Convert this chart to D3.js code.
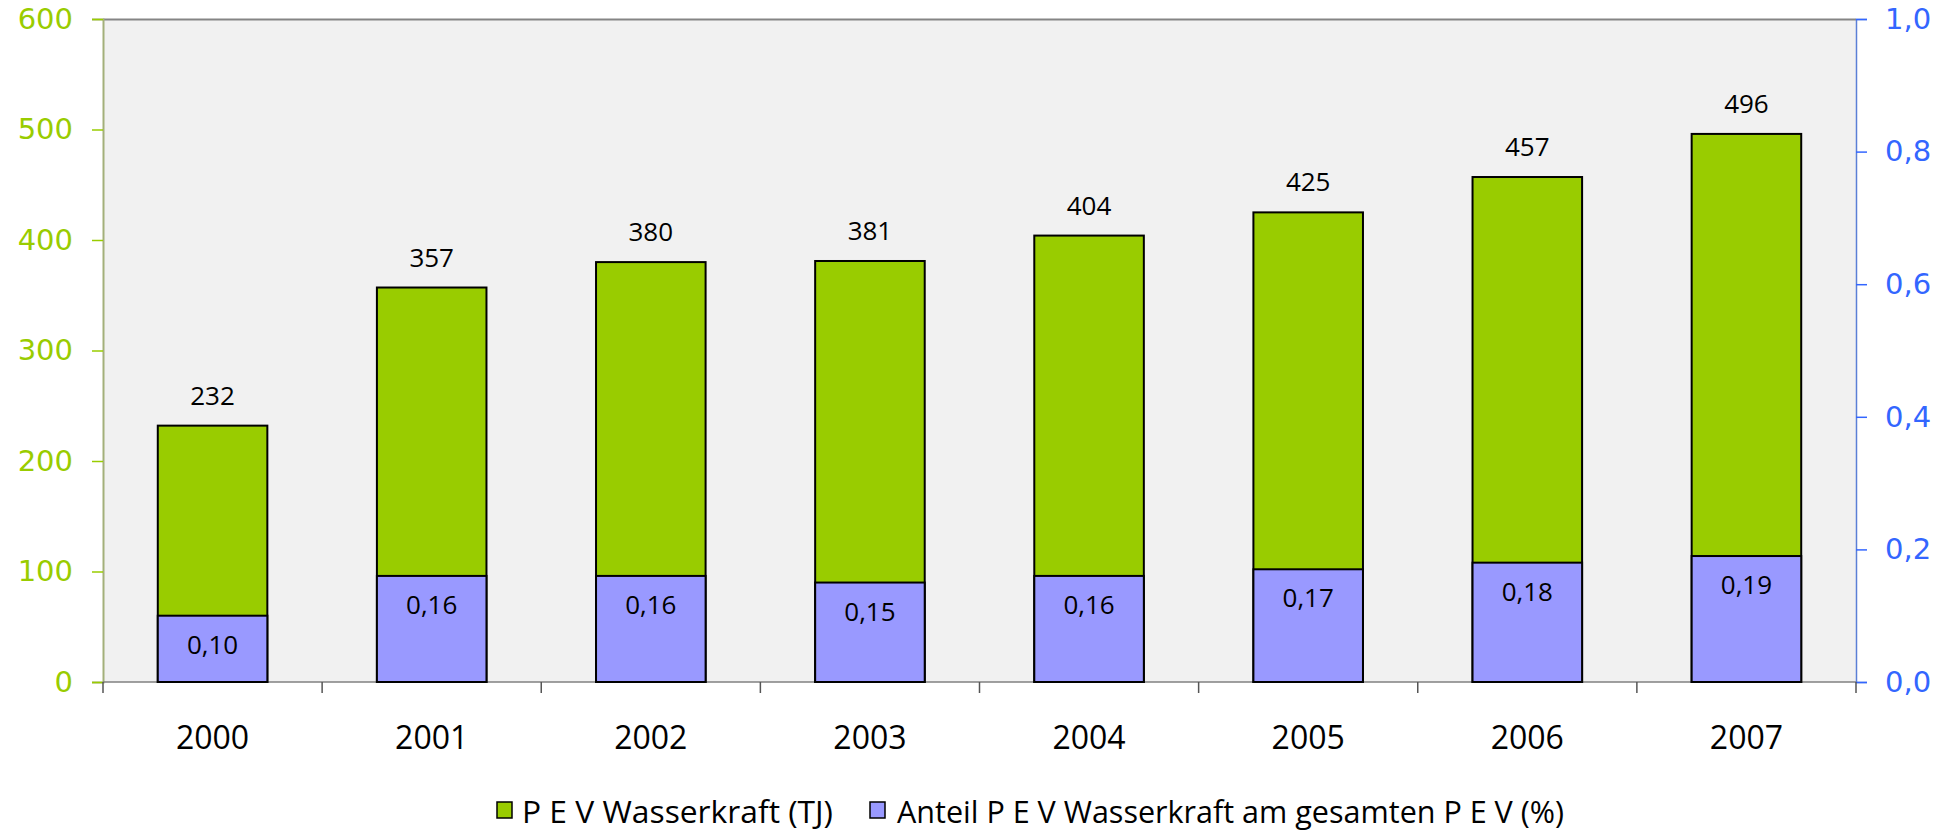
<!DOCTYPE html>
<html>
<head>
<meta charset="utf-8">
<script src="https://cdn.jsdelivr.net/npm/d3@7"></script>
<style>
  html, body { margin: 0; padding: 0; background: #ffffff; }
  svg { display: block; }
</style>
</head>
<body>
<svg id="chart" width="1950" height="831"></svg>
<script>
// Primärenergieverbrauch aus Wasserkraft, 2000–2007
const years = ["2000", "2001", "2002", "2003", "2004", "2005", "2006", "2007"];
const pevTJ = [232, 357, 380, 381, 404, 425, 457, 496];
const sharePct = [0.10, 0.16, 0.16, 0.15, 0.16, 0.17, 0.18, 0.19];
const leftTicks = [0, 100, 200, 300, 400, 500, 600];
const rightTicks = [0, 0.2, 0.4, 0.6, 0.8, 1.0];
const legendLabels = ["P E V Wasserkraft (TJ)", "Anteil P E V Wasserkraft am gesamten P E V (%)"];

const svg = d3.select("#chart");
const plot = { left: 103, right: 1856, top: 19, bottom: 682 };

const x = d3.scaleBand().domain(years).range([plot.left, plot.right]).paddingInner(0.5).paddingOuter(0.25);
const yL = d3.scaleLinear().domain([0, 600]).range([plot.bottom, plot.top]);
const yR = d3.scaleLinear().domain([0, 1]).range([plot.bottom, plot.top]);

const green = "#99cc00";
const purple = "#9999ff";
const fmt = d3.format(".2f");
const de = v => fmt(v).replace(".", ",");

// plot background
svg.append("rect")
  .attr("x", plot.left).attr("y", plot.top)
  .attr("width", plot.right - plot.left).attr("height", plot.bottom - plot.top)
  .attr("fill", "#f1f1f1");
svg.append("line")
  .attr("x1", plot.left).attr("x2", plot.right)
  .attr("y1", plot.top + 0.5).attr("y2", plot.top + 0.5)
  .attr("stroke", "#858585").attr("stroke-width", 2);

// left axis
const axL = svg.append("g").attr("transform", `translate(${plot.left},0)`)
  .call(d3.axisLeft(yL).tickValues(leftTicks).tickSize(11).tickPadding(19).tickFormat(d3.format("d")));
axL.select(".domain").attr("stroke", "#a3b07a").attr("stroke-width", 2);
axL.selectAll(".tick line").attr("stroke", green).attr("stroke-width", 1.5);
axL.selectAll(".tick text").attr("fill", green)
  .style("font-family", "'DejaVu Sans', sans-serif").style("font-size", "29px");

// right axis
const axR = svg.append("g").attr("transform", `translate(${plot.right},0)`)
  .call(d3.axisRight(yR).tickValues(rightTicks).tickSize(11).tickPadding(18).tickFormat(v => d3.format(".1f")(v).replace(".", ",")));
axR.select(".domain").attr("stroke", "#5b7fd6").attr("stroke-width", 1.5);
axR.selectAll(".tick line").attr("stroke", "#3366ff").attr("stroke-width", 1.5);
axR.selectAll(".tick text").attr("fill", "#3366ff")
  .style("font-family", "'DejaVu Sans', sans-serif").style("font-size", "29px");

// bottom axis with ticks between categories
const boundaries = d3.range(years.length + 1).map(i => plot.left + i * (plot.right - plot.left) / years.length);
svg.append("line")
  .attr("x1", plot.left).attr("x2", plot.right)
  .attr("y1", plot.bottom).attr("y2", plot.bottom)
  .attr("stroke", "#808080").attr("stroke-width", 1.5);
svg.selectAll("line.xtick").data(boundaries).join("line")
  .attr("class", "xtick")
  .attr("x1", d => d).attr("x2", d => d)
  .attr("y1", plot.bottom).attr("y2", plot.bottom + 11)
  .attr("stroke", "#555").attr("stroke-width", 1.5);
svg.selectAll("text.xlabel").data(years).join("text")
  .attr("class", "xlabel")
  .attr("x", d => x(d) + x.bandwidth() / 2)
  .attr("y", plot.bottom + 67)
  .attr("text-anchor", "middle")
  .style("font-family", "'Open Sans', sans-serif").style("font-size", "32px")
  .attr("fill", "#000")
  .text(d => d);

// green bars (left axis)
svg.selectAll("rect.pev").data(years).join("rect")
  .attr("class", "pev")
  .attr("x", d => x(d)).attr("width", x.bandwidth())
  .attr("y", (d, i) => yL(pevTJ[i]))
  .attr("height", (d, i) => yL(0) - yL(pevTJ[i]))
  .attr("fill", green).attr("stroke", "#000").attr("stroke-width", 2);

// purple bars (right axis)
svg.selectAll("rect.share").data(years).join("rect")
  .attr("class", "share")
  .attr("x", d => x(d)).attr("width", x.bandwidth())
  .attr("y", (d, i) => yR(sharePct[i]))
  .attr("height", (d, i) => yR(0) - yR(sharePct[i]))
  .attr("fill", purple).attr("stroke", "#000").attr("stroke-width", 2);

// value labels
svg.selectAll("text.pevlabel").data(years).join("text")
  .attr("class", "pevlabel")
  .attr("x", d => x(d) + x.bandwidth() / 2)
  .attr("y", (d, i) => yL(pevTJ[i]) - 21)
  .attr("text-anchor", "middle")
  .style("font-family", "'Open Sans', sans-serif").style("font-size", "26px")
  .attr("fill", "#000")
  .text((d, i) => pevTJ[i]);
svg.selectAll("text.sharelabel").data(years).join("text")
  .attr("class", "sharelabel")
  .attr("x", d => x(d) + x.bandwidth() / 2)
  .attr("y", (d, i) => yR(sharePct[i]) + 38)
  .attr("text-anchor", "middle")
  .style("font-family", "'Open Sans', sans-serif").style("font-size", "26px")
  .attr("fill", "#000")
  .text((d, i) => de(sharePct[i]));

// legend
const legend = [
  { label: legendLabels[0], color: green, box: 497, tx: 522, tw: 311 },
  { label: legendLabels[1], color: purple, box: 870, tx: 897, tw: 667 }
];
const lg = svg.selectAll("g.legend").data(legend).join("g").attr("class", "legend");
lg.append("rect")
  .attr("x", d => d.box).attr("y", 802).attr("width", 15).attr("height", 16)
  .attr("fill", d => d.color).attr("stroke", "#000").attr("stroke-width", 1.5);
lg.append("text")
  .attr("x", d => d.tx).attr("y", 823)
  .attr("textLength", d => d.tw).attr("lengthAdjust", "spacingAndGlyphs")
  .style("font-family", "'Open Sans', sans-serif").style("font-size", "31px")
  .attr("fill", "#000")
  .text(d => d.label);
</script>
</body>
</html>
